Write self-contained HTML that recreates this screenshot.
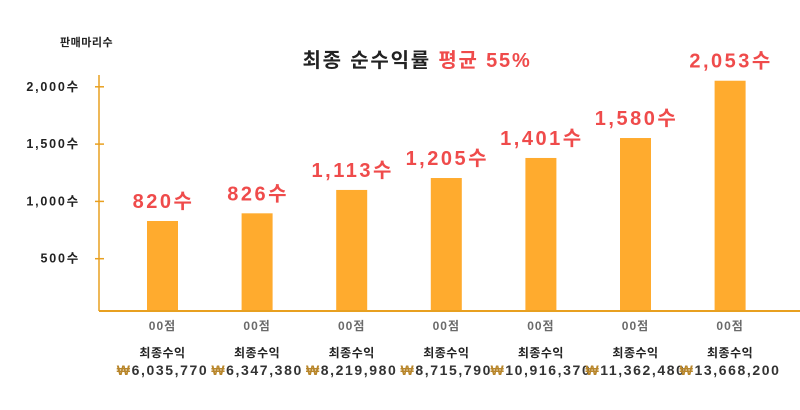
<!DOCTYPE html>
<html><head><meta charset="utf-8">
<style>
body{margin:0;background:#fff;}
svg{display:block;font-family:"Liberation Sans","Noto Sans CJK KR",sans-serif;font-weight:bold;}
</style></head>
<body>
<svg width="800" height="410" viewBox="0 0 800 410">
<text x="60" y="46" font-size="11" fill="#222" letter-spacing="0.5">판매마리수</text>
<text x="417" y="67" font-size="20" text-anchor="middle" fill="#222" letter-spacing="1.8">최종 순수익률 <tspan fill="#ef4b4b">평균 55%</tspan></text>
<g id="yaxis"></g>
<g id="bars"></g>
<line x1="99" y1="311" x2="800" y2="311" stroke="#e8a020" stroke-width="2"/>
<line x1="99" y1="75" x2="99" y2="311" stroke="#e8a020" stroke-width="1.5"/>
</svg>
<script>
const categories = ["00점","00점","00점","00점","00점","00점","00점"];
const barValues = [829, 896, 1100, 1204, 1379, 1553, 2053];
const valueLabels = ["820수","826수","1,113수","1,205수","1,401수","1,580수","2,053수"];
const profits = ["6,035,770","6,347,380","8,219,980","8,715,790","10,916,370","11,362,480","13,668,200"];
const yTicks = [500, 1000, 1500, 2000];
const yTickLabels = ["500수","1,000수","1,500수","2,000수"];

const NS = "http://www.w3.org/2000/svg";
const y = v => 316 - v * 0.1146;
const x = i => 162.5 + i * 94.6;
function mk(tag, attrs, parent, text){
  const e = document.createElementNS(NS, tag);
  for (const k in attrs) e.setAttribute(k, attrs[k]);
  if (text !== undefined) e.textContent = text;
  parent.appendChild(e);
  return e;
}
const ya = document.getElementById("yaxis");
yTicks.forEach((t, i) => {
  const l = mk("line", {x1:95, x2:104, y1:y(t), y2:y(t), stroke:"#e8a020", "stroke-width":1.5}, ya);
  
  
  const tx = mk("text", {x:80, y:y(t)+4, "font-size":12.5, "text-anchor":"end", fill:"#222", "letter-spacing":1.8}, ya, yTickLabels[i]);
  
  
});
const bg = document.getElementById("bars");
barValues.forEach((v, i) => {
  const cx = x(i);
  const top = y(v);
  const r = mk("rect", {x:cx-15.5, y:top, width:31, height:311-top, fill:"#ffab2e"}, bg);
  
  
  const vl = mk("text", {x:cx+1, y:top-13, "font-size":20, "text-anchor":"middle", fill:"#ef4b4b", "letter-spacing":2.5}, bg, valueLabels[i]);
  
  
  const c = mk("text", {x:cx, y:330, "font-size":12, "text-anchor":"middle", fill:"#6a6a6a", "letter-spacing":1}, bg, categories[i]);
  
  
  const p1 = mk("text", {x:cx, y:357, "font-size":12, "text-anchor":"middle", fill:"#222", "letter-spacing":0.5}, bg, "최종수익");
  
  
  const p2 = mk("text", {x:cx, y:375, "font-size":14, "text-anchor":"middle", fill:"#333", "letter-spacing":1.6}, bg);
  
  
  mk("tspan", {fill:"#b8862b"}, p2, "₩");
  mk("tspan", {}, p2, profits[i]);
});
</script>
</body></html>
